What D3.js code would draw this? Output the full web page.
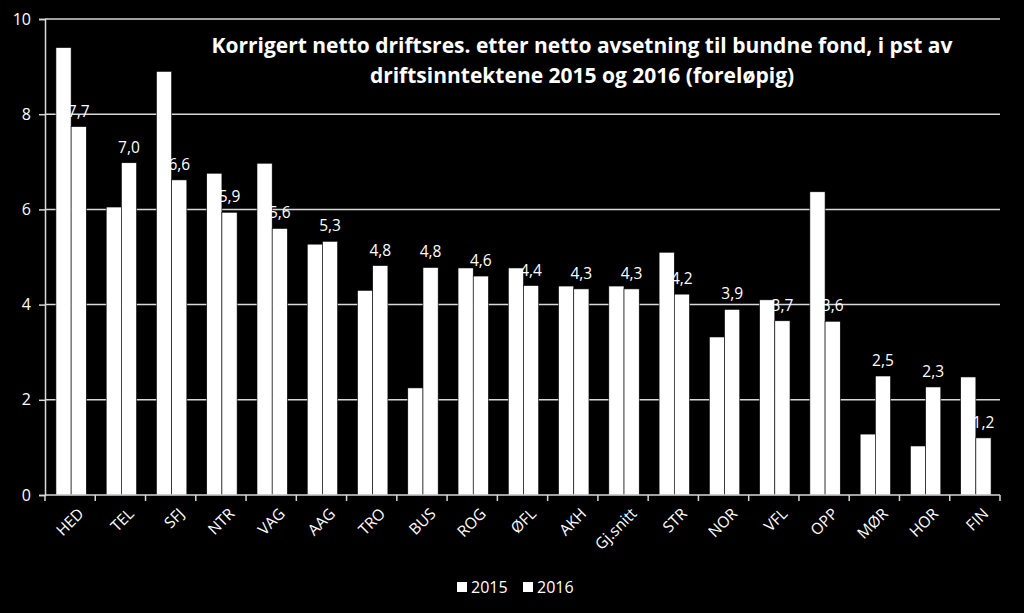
<!DOCTYPE html>
<html><head><meta charset="utf-8">
<script src="https://cdn.jsdelivr.net/npm/d3@7"></script>
<style>body{margin:0;background:#000;}svg{display:block;}</style>
</head><body>
<svg id="c" width="1024" height="613"></svg>
<script>
const categories = ["HED","TEL","SFJ","NTR","VAG","AAG","TRO","BUS","ROG","ØFL","AKH","Gj.snitt","STR","NOR","VFL","OPP","MØR","HOR","FIN"];
const values2015 = [9.4,6.05,8.9,6.76,6.97,5.27,4.3,2.25,4.77,4.77,4.39,4.39,5.1,3.32,4.1,6.37,1.28,1.03,2.48];
const values2016 = [7.74,6.98,6.62,5.94,5.6,5.33,4.82,4.78,4.6,4.4,4.33,4.33,4.22,3.9,3.66,3.65,2.5,2.27,1.2];
const seriesNames = ["2015","2016"];
const yTicks = [0,2,4,6,8,10];
const titleLines = ["Korrigert netto driftsres. etter netto avsetning til bundne fond, i pst av","driftsinntektene 2015 og 2016 (foreløpig)"];

const svg = d3.select("#c");
const font = "'Open Sans', sans-serif";
const mLeft = 45, mRight = 1000, mTop = 19, mBottom = 495;
const x = d3.scaleBand().domain(categories).range([mLeft, mRight]).padding(0);
const y = d3.scaleLinear().domain([0,10]).range([mBottom, mTop]);
const bw = 15.2;

svg.append("rect").attr("width",1024).attr("height",613).attr("fill","#000");

// gridlines
svg.append("g").selectAll("line").data(yTicks.filter(d=>d>0)).join("line")
  .attr("x1",mLeft).attr("x2",mRight).attr("y1",d=>y(d)).attr("y2",d=>y(d))
  .attr("stroke","#d9d9d9").attr("stroke-width",1.5);

// y axis
const ya = svg.append("g").attr("transform",`translate(${mLeft},0)`)
  .call(d3.axisLeft(y).tickValues(yTicks).tickSize(6).tickPadding(8).tickFormat(d3.format("d")));
ya.select(".domain").attr("stroke","#d9d9d9").attr("stroke-width",1.5);
ya.selectAll(".tick line").attr("stroke","#d9d9d9").attr("stroke-width",1.5);
ya.selectAll("text").attr("fill","#fff").attr("font-family",font).attr("font-size",16);

// bars
const data = categories.map((c,i)=>({c, v:[values2015[i], values2016[i]]}));
const g = svg.append("g");
data.forEach(d=>{
  const off = (x.bandwidth() - 2*bw)/2 + 1;
  d.v.forEach((v,j)=>{
    g.append("rect").attr("x", x(d.c)+off+j*bw).attr("width",bw)
      .attr("y", y(v)).attr("height", y(0)-y(v))
      .attr("fill","#fff").attr("stroke","#000").attr("stroke-width",0.6);
  });
  g.append("text").attr("x", x(d.c)+off+1.5*bw).attr("y", y(d.v[1])-10)
    .attr("text-anchor","middle").attr("fill","#fff").attr("font-family",font).attr("font-size",15.5)
    .text(d3.format(".1f")(d.v[1]).replace(".",","));
});

// x axis
svg.append("line").attr("x1",mLeft).attr("x2",mRight).attr("y1",mBottom).attr("y2",mBottom)
  .attr("stroke","#d9d9d9").attr("stroke-width",1.5);
const tickX = categories.map(c=>x(c)).concat([mRight]);
svg.append("g").selectAll("line").data(tickX).join("line")
  .attr("x1",d=>d).attr("x2",d=>d).attr("y1",mBottom).attr("y2",mBottom+6)
  .attr("stroke","#d9d9d9").attr("stroke-width",1.5);
svg.append("g").selectAll("text").data(categories).join("text")
  .attr("transform",d=>`translate(${x(d)+x.bandwidth()/2+7},${mBottom+12}) rotate(-45)`)
  .attr("text-anchor","end").attr("dy","0.7em").attr("fill","#fff").attr("font-family",font).attr("font-size",15.5)
  .text(d=>d);

// title
svg.append("g").selectAll("text").data(titleLines).join("text")
  .attr("x",582).attr("y",(d,i)=>53+i*30).attr("text-anchor","middle")
  .attr("fill","#fff").attr("font-family",font).attr("font-weight","bold").attr("font-size",21)
  .text(d=>d);

// legend
const lg = svg.append("g");
seriesNames.forEach((s,i)=>{
  const lx = 457 + i*66;
  lg.append("rect").attr("x",lx).attr("y",582).attr("width",10).attr("height",10).attr("fill","#fff");
  lg.append("text").attr("x",lx+14).attr("y",593).attr("fill","#fff").attr("font-family",font).attr("font-size",16).text(s);
});
</script>
</body></html>
